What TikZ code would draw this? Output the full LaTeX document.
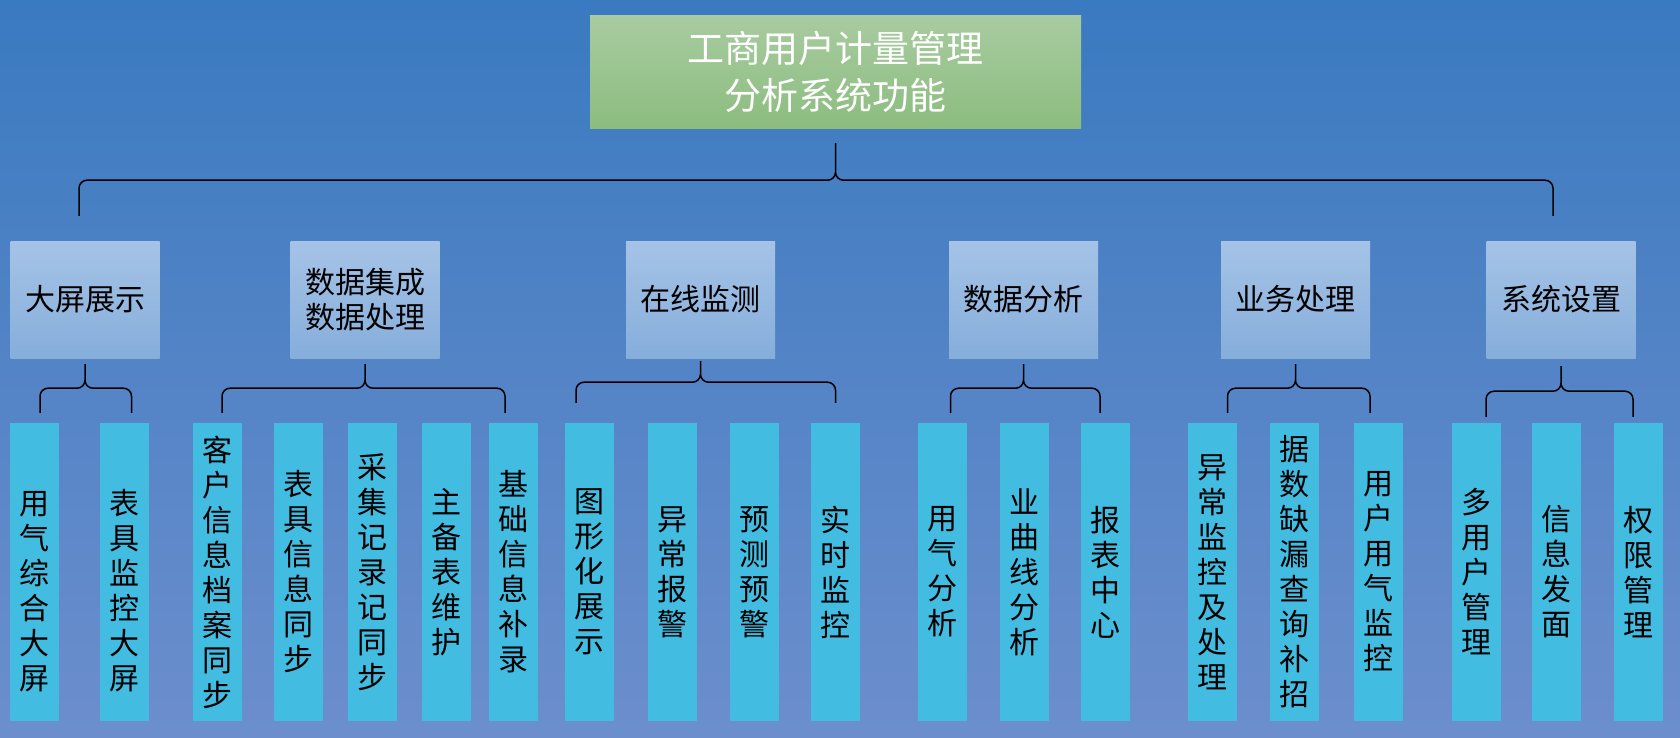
\documentclass[tikz,border=0pt]{standalone}
\usepackage{fontspec}
\newfontfamily\cjk{Noto Sans CJK SC}
\usepackage{tikz}
\usetikzlibrary{calc,positioning}

\definecolor{bgtop}{RGB}{58,122,192}
\definecolor{bgbot}{RGB}{108,142,205}
\definecolor{titletop}{RGB}{168,203,160}
\definecolor{titlebot}{RGB}{140,189,127}
\definecolor{grptop}{RGB}{166,195,230}
\definecolor{grpbot}{RGB}{133,174,219}
\definecolor{itemfill}{RGB}{66,188,224}

\tikzset{
  titlebox/.style={top color=titletop, bottom color=titlebot, minimum width=491pt,
    minimum height=113pt, inner sep=0pt, align=center, text=white,
    font=\cjk\fontsize{37}{47}\selectfont},
  grpbox/.style={top color=grptop, bottom color=grpbot, minimum width=149pt,
    minimum height=117pt, inner sep=0pt, align=center, text=black,
    font=\cjk\fontsize{30}{35}\selectfont},
  itembox/.style={fill=itemfill, minimum width=49pt, minimum height=298pt,
    inner sep=0pt, align=center, text=black, font=\cjk\fontsize{30}{35}\selectfont},
  brace line/.style={draw=black, line width=1.5pt},
}

% brace: parent, first child, last child, tip gap, bar drop, end gap, left/right shift
\newcommand{\grpbrace}[8]{%
  \draw[brace line] let \p1=(#1.south), \p2=(#2.north), \p3=(#3.north) in
    (\x2+#7pt,\y2+#6pt) -- (\x2+#7pt,\y1-#5pt-8pt) arc[start angle=180,end angle=90,radius=8pt]
    -- (\x1-8pt,\y1-#5pt) arc[start angle=270,end angle=360,radius=8pt]
    -- (\x1,\y1-#4pt) -- (\x1,\y1-#5pt+8pt) arc[start angle=180,end angle=270,radius=8pt]
    -- (\x3+#8pt-8pt,\y1-#5pt) arc[start angle=90,end angle=0,radius=8pt]
    -- (\x3+#8pt,\y2+#6pt);}

\begin{document}
\begin{tikzpicture}[x=1pt,y=-1pt]
        % background
        \shade[top color=bgtop, bottom color=bgbot] (0,0) rectangle (1680,737);
        \useasboundingbox (0,0) rectangle (1680,737);

        % title
        \node[titlebox] (top) at (835.5,71.5) {工商用户计量管理\\分析系统功能};

        % second level
        \node[grpbox] (screen)   at (85,299.5)     {大屏展示};
        \node[grpbox] (data)     at (365,299.5)    {数据集成\\数据处理};
        \node[grpbox] (monitor)  at (700.5,299.5)  {在线监测};
        \node[grpbox] (analysis) at (1023.5,299.5) {数据分析};
        \node[grpbox] (business) at (1295.5,299.5) {业务处理};
        \node[grpbox] (setting)  at (1561,299.5)   {系统设置};

        % third level
        \node[itembox] (it1)  at (34,572)     {\rule{0pt}{62pt}用\\气\\综\\合\\大\\屏};
        \node[itembox] (it2)  at (124.5,572)  {\rule{0pt}{62pt}表\\具\\监\\控\\大\\屏};
        \node[itembox] (it3)  at (217,572)    {客\\户\\信\\息\\档\\案\\同\\步};
        \node[itembox] (it4)  at (298,572)    {表\\具\\信\\息\\同\\步};
        \node[itembox] (it5)  at (372.5,572)  {采\\集\\记\\录\\记\\同\\步};
        \node[itembox] (it6)  at (446.5,572)  {主\\备\\表\\维\\护};
        \node[itembox] (it7)  at (513,572)    {基\\础\\信\\息\\补\\录};
        \node[itembox] (it8)  at (589,572)    {图\\形\\化\\展\\示};
        \node[itembox] (it9)  at (672.5,572)  {异\\常\\报\\警};
        \node[itembox] (it10) at (754.5,572)  {预\\测\\预\\警};
        \node[itembox] (it11) at (835.5,572)  {实\\时\\监\\控};
        \node[itembox] (it12) at (942.5,572)  {用\\气\\分\\析};
        \node[itembox] (it13) at (1024,572)   {业\\曲\\线\\分\\析};
        \node[itembox] (it14) at (1105,572)   {报\\表\\中\\心};
        \node[itembox] (it15) at (1212.5,572) {异\\常\\监\\控\\及\\处\\理};
        \node[itembox] (it16) at (1294,572)   {据\\数\\缺\\漏\\查\\询\\补\\招};
        \node[itembox] (it17) at (1378,572)   {用\\户\\用\\气\\监\\控};
        \node[itembox] (it18) at (1476,572)   {多\\用\\户\\管\\理};
        \node[itembox] (it19) at (1556,572)   {信\\息\\发\\面};
        \node[itembox] (it20) at (1638,572)   {权\\限\\管\\理};

        % braces
        \grpbrace{top}{screen}{setting}{15}{52}{25}{-6}{-8}
        \grpbrace{screen}{it1}{it2}{6}{30}{10}{6}{7}
        \grpbrace{data}{it3}{it7}{6}{30}{10}{5}{-8}
        \grpbrace{monitor}{it8}{it11}{3}{24}{20}{-13}{0}
        \grpbrace{analysis}{it12}{it14}{6}{30}{10}{8}{-5}
        \grpbrace{business}{it15}{it17}{6}{30}{10}{15}{-8}
        \grpbrace{setting}{it18}{it20}{8}{33}{6}{10}{-5}
\end{tikzpicture}
\end{document}
